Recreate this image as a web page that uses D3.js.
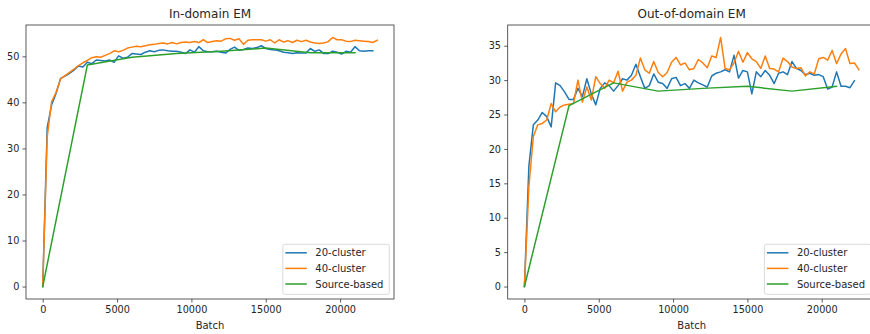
<!DOCTYPE html>
<html>
<head>
<meta charset="utf-8">
<script src="https://cdn.jsdelivr.net/npm/d3@7"></script>
<style>
  html,body{margin:0;padding:0;background:#fff}
  svg{display:block;font-family:'DejaVu Sans',sans-serif}
</style>
</head>
<body>
<svg id="chart" width="870" height="334"></svg>
<script>
// batch numbers at which the cluster runs were evaluated
const batches = [0,300,600,900,1200,1500,1800,2100,2400,2700,3000,3300,3600,3900,4200,4500,4800,5100,5400,5700,
  6000,6300,6600,6900,7200,7500,7800,8100,8400,8700,9000,9300,9600,9900,10200,10500,10800,11100,11400,11700,
  12000,12300,12600,12900,13200,13500,13800,14100,14400,14700,15000,15300,15600,15900,16200,16500,16800,17100,17400,17700,
  18000,18300,18600,18900,19200,19500,19800,20100,20400,20700,21000,21300,21600,21900,22200,22500];
const sourceBatches = [0,3000,6000,9000,12000,15000,18000,21000];

const inCluster20 = [0,34.5,39.5,42,45.2,45.7,46.3,47.0,47.9,47.7,
  48.7,48.4,49.2,49.1,49.0,49.2,48.7,50.1,49.6,49.8,
  50.6,50.5,50.4,50.9,51.2,51.0,51.3,51.4,51.2,51.1,
  51.1,50.9,50.6,51.4,50.9,52.1,51.2,51.0,51.0,51.1,
  50.9,50.7,51.5,52.0,51.3,51.5,51.8,51.7,51.9,52.3,
  51.7,51.5,51.4,51.2,50.9,50.8,50.6,50.8,50.7,50.7,
  51.7,51.1,51.4,50.6,50.6,51.1,50.9,50.5,51.1,50.9,
  52.1,51.2,51.1,51.2,51.2];
const inCluster40 = [0,32.5,40.2,42.2,45.1,45.8,46.5,47.2,48.0,48.6,
  49.1,49.7,49.9,49.8,50.2,50.6,51.2,51.0,51.3,51.8,
  52.0,52.2,52.1,52.3,52.5,52.6,52.8,52.9,52.7,53.0,
  52.7,53.0,53.1,53.0,53.2,53.0,53.6,53.0,53.2,53.4,
  53.3,53.8,53.9,53.5,53.8,52.6,53.5,53.6,53.6,53.6,
  53.3,53.6,52.9,53.6,53.1,53.4,53.0,53.5,53.2,53.5,
  53.1,52.9,52.8,52.9,53.2,54.1,53.6,53.6,53.3,53.2,
  53.5,53.4,53.3,53.2,53.0,53.5];
const inSource = [0,48.1,49.8,50.6,51.1,51.8,50.8,50.8];

const outCluster20 = [0,17.5,23.5,24.2,25.3,24.7,23.2,29.6,29.2,28.3,
  27.2,27.2,28.8,27.6,30.2,28.0,26.4,28.8,29.6,29.2,
  28.4,29.2,30.2,30.0,30.7,32.3,30.5,28.8,29.2,30.9,
  29.7,29.5,28.8,30.2,30.4,29.2,29.5,28.8,30.0,29.6,
  29.3,29.0,30.6,31.0,31.2,31.5,31.2,33.6,30.3,31.4,
  31.2,28.0,31.2,30.5,31.4,30.7,29.5,31.0,31.2,30.8,
  32.7,31.7,31.4,30.8,31.0,30.7,30.8,30.5,28.7,29.0,
  31.2,29.1,29.1,28.9,29.9];
const outCluster40 = [0,14.5,21.8,23.5,23.7,24.2,26.6,25.4,26.1,26.4,
  26.5,26.6,30.0,26.8,29.0,27.1,30.5,29.5,28.8,30.0,
  29.6,31.3,28.4,29.7,30.0,30.7,33.2,31.5,31.0,32.7,
  31.1,30.5,31.1,32.6,33.3,32.2,32.5,31.5,31.7,33.0,
  32.5,31.8,33.5,33.3,36.2,31.7,31.5,32.5,34.2,32.6,
  34.0,33.1,32.7,31.7,33.5,31.7,31.6,31.2,33.2,32.7,
  31.9,31.7,31.8,30.6,31.2,30.9,33.1,33.3,32.9,34.3,
  32.4,33.8,34.6,32.4,32.5,31.5];
const outSource = [0,26.3,29.6,28.4,28.8,29.1,28.4,29.1];

const xTicks = [0,5000,10000,15000,20000];
const inYTicks = [0,10,20,30,40,50];
const outYTicks = [0,5,10,15,20,25,30,35];
const seriesNames = ['20-cluster','40-cluster','Source-based'];
const colors = ['#1f77b4','#ff7f0e','#2ca02c'];

const svg = d3.select('#chart');

function zip(xs, ys) { return ys.map((v, i) => [xs[i], v]); }

// matplotlib style autoscale: 5% margin each side
function padded(lo, hi) { const m = (hi - lo) * 0.05; return [lo - m, hi + m]; }

function panel(opt) {
  const { left, right, top, bottom, title, yTicks, series } = opt;
  const g = svg.append('g');
  const allY = series.flatMap(s => s.map(d => d[1]));
  const allX = series.flatMap(s => s.map(d => d[0]));
  const x = d3.scaleLinear().domain(padded(d3.min(allX), d3.max(allX))).range([left, right]);
  const y = d3.scaleLinear().domain(padded(d3.min(allY), d3.max(allY))).range([bottom, top]);

  const line = d3.line().x(d => x(d[0])).y(d => y(d[1]));
  const plot = g.append('g');
  series.forEach((s, i) => {
    plot.append('path').datum(s).attr('d', line)
      .attr('fill', 'none').attr('stroke', colors[i]).attr('stroke-width', 1.5)
      .attr('stroke-linejoin', 'round').attr('stroke-linecap', 'square');
  });

  const xa = g.append('g').attr('transform', `translate(0,${bottom})`)
    .call(d3.axisBottom(x).tickValues(xTicks).tickSize(3.5).tickPadding(3.2).tickFormat(d3.format('d')));
  const ya = g.append('g').attr('transform', `translate(${left},0)`)
    .call(d3.axisLeft(y).tickValues(yTicks).tickSize(3.5).tickPadding(3.2).tickFormat(d3.format('d')));
  [xa, ya].forEach(a => {
    a.select('.domain').remove();
    a.selectAll('.tick line').attr('stroke', '#333').attr('stroke-width', 0.8);
    a.selectAll('.tick text').attr('fill', '#262626').style('font-size', '9.7px')
      .style('font-family', "'DejaVu Sans',sans-serif");
  });

  g.append('rect').attr('x', left).attr('y', top).attr('width', right - left).attr('height', bottom - top)
    .attr('fill', 'none').attr('stroke', '#333').attr('stroke-width', 0.8);

  g.append('text').attr('x', (left + right) / 2).attr('y', top - 7)
    .attr('text-anchor', 'middle').attr('fill', '#262626').style('font-size', '12px').text(title);
  g.append('text').attr('x', (left + right) / 2).attr('y', bottom + 30)
    .attr('text-anchor', 'middle').attr('fill', '#262626').style('font-size', '10px').text('Batch');

  // legend, lower right
  const lw = 106.5, lh = 50;
  const lx = right - 4.7 - lw, ly = bottom - 4.7 - lh;
  const lg = g.append('g').attr('transform', `translate(${lx},${ly})`);
  lg.append('rect').attr('width', lw).attr('height', lh).attr('rx', 2)
    .attr('fill', '#fff').attr('fill-opacity', 0.8).attr('stroke', '#d0d0d0').attr('stroke-width', 0.8);
  seriesNames.forEach((n, i) => {
    const cy = 8.5 + i * 15.6;
    lg.append('line').attr('x1', 2.5).attr('x2', 24).attr('y1', cy).attr('y2', cy)
      .attr('stroke', colors[i]).attr('stroke-width', 1.5);
    lg.append('text').attr('x', 32.5).attr('y', cy + 3.6).attr('fill', '#262626')
      .style('font-size', '10px').text(n);
  });
}

panel({
  left: 26, right: 394, top: 25, bottom: 299, title: 'In-domain EM', yTicks: inYTicks,
  series: [zip(batches, inCluster20), zip(batches, inCluster40), zip(sourceBatches, inSource)],
});
panel({
  left: 507.7, right: 875.6, top: 25, bottom: 299, title: 'Out-of-domain EM', yTicks: outYTicks,
  series: [zip(batches, outCluster20), zip(batches, outCluster40), zip(sourceBatches, outSource)],
});
</script>
</body>
</html>
